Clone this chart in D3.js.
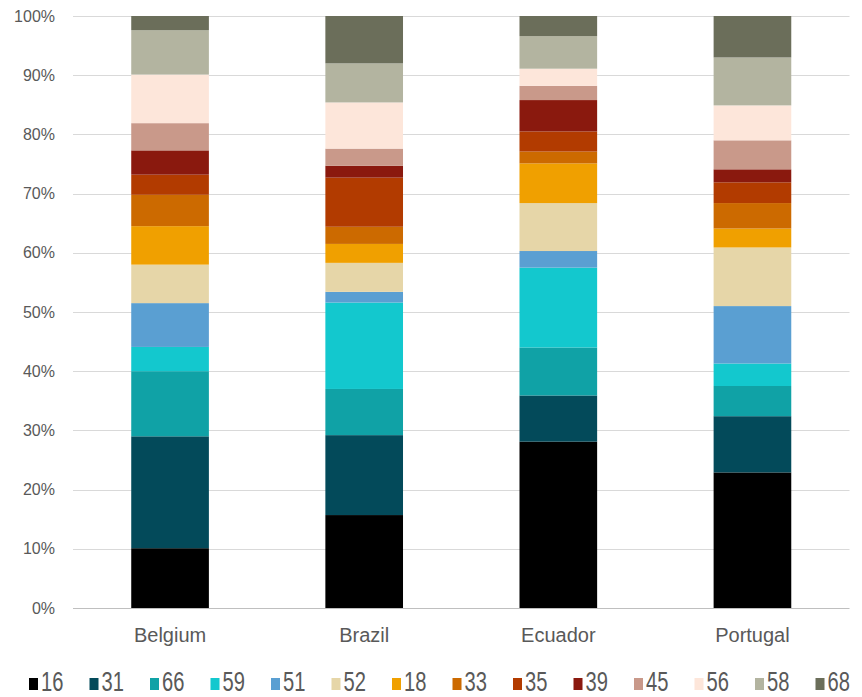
<!DOCTYPE html>
<html>
<head>
<meta charset="utf-8">
<script src="https://cdn.jsdelivr.net/npm/d3@7"></script>
<style>
  html, body { margin: 0; padding: 0; background: #fff; }
  svg { display: block; font-family: "Liberation Sans", Arial, sans-serif; }
</style>
</head>
<body>
<div id="chart"></div>
<script>
const countries = ["Belgium", "Brazil", "Ecuador", "Portugal"];
const seriesKeys = ["16", "31", "66", "59", "51", "52", "18", "33", "35", "39", "45", "56", "58", "68"];
const seriesColors = ["#000000", "#034a5a", "#10a2a6", "#13c8ce", "#5a9fd2", "#e6d6a8", "#f0a000", "#cc6a00",
                      "#b23b00", "#8a190e", "#c9998a", "#fde6da", "#b3b4a0", "#6b6e5a"];
// percent shares, in series order, per country
const belgium  = [10.1, 18.9, 11.0, 4.1, 7.4, 6.5, 6.5, 5.3, 3.4, 4.1, 4.6, 8.2, 7.5, 2.4];
const brazil   = [15.7, 13.5, 7.8, 14.6, 1.8, 4.9, 3.2, 2.9, 8.3, 2.0, 2.9, 7.8, 6.6, 8.0];
const ecuador  = [28.1, 7.8, 8.1, 13.5, 2.8, 8.1, 6.7, 2.0, 3.4, 5.3, 2.4, 2.9, 5.5, 3.4];
const portugal = [22.9, 9.5, 5.1, 3.8, 9.7, 9.9, 3.2, 4.3, 3.5, 2.2, 4.9, 5.9, 8.1, 7.0];
const yTicks = [0, 0.1, 0.2, 0.3, 0.4, 0.5, 0.6, 0.7, 0.8, 0.9, 1];

const width = 862, height = 697;
const margin = { top: 16, right: 12, bottom: 89, left: 73 };

const rows = [belgium, brazil, ecuador, portugal].map((vals, i) => {
    const row = { country: countries[i] };
    seriesKeys.forEach((k, j) => { row[k] = vals[j]; });
    return row;
});

const stacked = d3.stack().keys(seriesKeys).offset(d3.stackOffsetExpand)(rows);

const x = d3.scaleBand()
    .domain(countries)
    .range([margin.left, width - margin.right - 0.5])
    .paddingInner(0.6)
    .paddingOuter(0.3);

const y = d3.scaleLinear()
    .domain([0, 1])
    .range([height - margin.bottom, margin.top]);

const color = d3.scaleOrdinal().domain(seriesKeys).range(seriesColors);

const svg = d3.select("#chart")
    .append("svg")
    .attr("width", width)
    .attr("height", height);

// gridlines
svg.append("g")
    .selectAll("line")
    .data(yTicks)
    .join("line")
    .attr("x1", x.range()[0])
    .attr("x2", x.range()[1])
    .attr("y1", d => Math.round(y(d)) + 0.5)
    .attr("y2", d => Math.round(y(d)) + 0.5)
    .attr("stroke", d => d === 0 ? "#bfbfbf" : "#d9d9d9")
    .attr("stroke-width", 1);

// y labels
const yAxis = svg.append("g")
    .attr("transform", `translate(${margin.left - 18},0)`)
    .call(d3.axisLeft(y).tickValues(yTicks).tickFormat(d3.format(".0%")).tickSize(0).tickPadding(0));
yAxis.select(".domain").remove();
yAxis.selectAll("text")
    .attr("fill", "#595959")
    .style("font-size", "16px");

// bars
svg.append("g")
    .selectAll("g")
    .data(stacked)
    .join("g")
    .attr("fill", d => color(d.key))
    .selectAll("rect")
    .data(d => d)
    .join("rect")
    .attr("x", d => x(d.data.country))
    .attr("width", x.bandwidth())
    .attr("y", d => y(d[1]))
    .attr("height", d => y(d[0]) - y(d[1]));

// category labels
const xAxis = svg.append("g")
    .attr("transform", `translate(0,${height - margin.bottom})`)
    .call(d3.axisBottom(x).tickSize(0).tickPadding(20));
xAxis.select(".domain").remove();
xAxis.selectAll("text")
    .attr("fill", "#595959")
    .style("font-size", "20px");

// legend
const legend = svg.append("g")
    .attr("transform", `translate(29,678)`);
const item = legend.selectAll("g")
    .data(seriesKeys)
    .join("g")
    .attr("transform", (d, i) => `translate(${i * 60.5},0)`);
item.append("rect")
    .attr("width", 9)
    .attr("height", 12)
    .attr("fill", d => color(d));
item.append("text")
    .attr("transform", "translate(12,13) scale(0.72,1)")
    .attr("fill", "#595959")
    .style("font-size", "28px")
    .text(d => d);
</script>
</body>
</html>
